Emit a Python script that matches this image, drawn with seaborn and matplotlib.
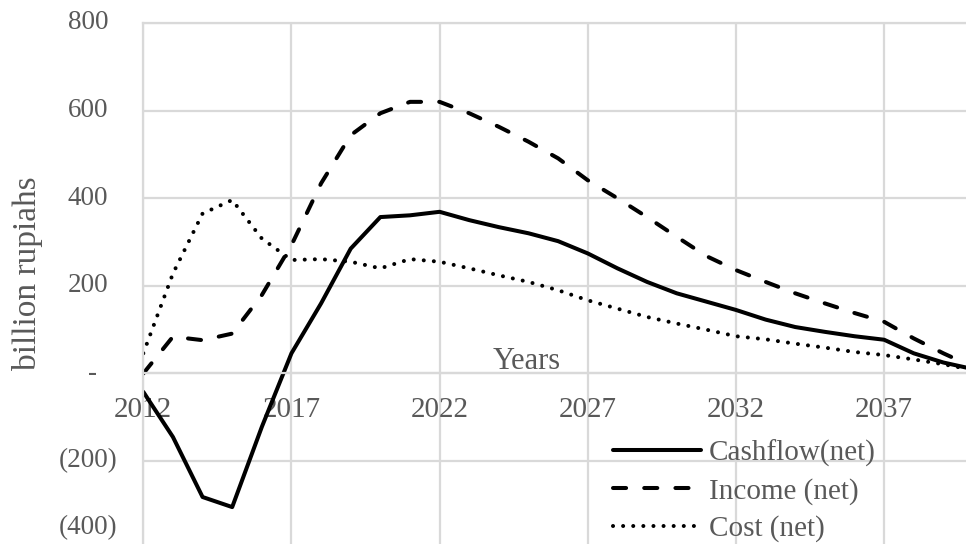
import seaborn as sns
import matplotlib.pyplot as plt
import pandas as pd

# data (billion rupiahs per year)
years = list(range(2012, 2041))
cashflow = [-42, -145, -282, -305, -122, 46, 160, 285, 357, 361, 369, 350, 334, 320,
            302, 274, 240, 209, 183, 164, 145, 123, 106, 95, 85, 77, 46, 25, 10]
income = [0, 84, 76, 91, 179, 293, 434, 544, 594, 620, 620, 594, 563, 529,
          491, 441, 400, 357, 312, 268, 236, 209, 183, 160, 138, 118, 80, 46, 15]
cost = [46, 228, 365, 396, 308, 259, 261, 255, 240, 261, 255, 240, 224, 209,
        190, 167, 148, 129, 114, 100, 85, 78, 68, 59, 49, 42, 32, 21, 8]

series_names = ["Cashflow(net)", "Income (net)", "Cost (net)"]
xtick_years = [2012, 2017, 2022, 2027, 2032, 2037]
ytick_values = [-400, -200, 0, 200, 400, 600, 800]
ytick_labels = ["(400)", "(200)", "-", "200", "400", "600", "800"]

df = pd.DataFrame({
    "year": years * 3,
    "value": cashflow + income + cost,
    "series": [series_names[0]] * len(years) + [series_names[1]] * len(years)
              + [series_names[2]] * len(years),
})

sns.set_style("white")
plt.rcParams["font.family"] = ["Liberation Serif", "DejaVu Serif"]

grey_text = "#595959"
grid_col = "#d9d9d9"

fig = plt.figure(figsize=(9.66, 5.44), dpi=100)
ax = fig.add_axes([143.3 / 966, -4.7 / 544, (973 - 143.3) / 966, (548.7 - 23) / 544])

sns.lineplot(
    data=df, x="year", y="value",
    style="series", style_order=series_names,
    dashes={series_names[0]: "", series_names[1]: (3.25, 4.5), series_names[2]: (0.01, 2.5)},
    color="black", linewidth=2.9, dash_capstyle="round",
    errorbar=None, legend=False, ax=ax,
)

ax.set_xlim(2012, 2040)
ax.set_ylim(-400, 800)
ax.set_xticks(xtick_years)
ax.set_xticklabels([str(y) for y in xtick_years])
ax.set_yticks(ytick_values)
ax.set_yticklabels([])
ax.tick_params(axis="x", length=0, pad=17, labelsize=21, labelcolor=grey_text)
ax.tick_params(axis="y", length=0)
ax.set_xlabel("")
ax.set_ylabel("")

ax.grid(True, color=grid_col, linewidth=1.6)
ax.set_axisbelow(True)
for side in ["top", "left"]:
    ax.spines[side].set_color(grid_col)
    ax.spines[side].set_linewidth(1.6)
ax.spines["right"].set_visible(False)
ax.spines["bottom"].set_position(("data", 0))
ax.spines["bottom"].set_color(grid_col)
ax.spines["bottom"].set_linewidth(1.6)

# accounting-style y labels (the lowest one is nudged up to stay inside, as in Excel)
ytrans = ax.get_yaxis_transform()
for v, lab in zip(ytick_values, ytick_labels):
    if v > 0:
        xpos, ha = -0.0422, "right"
    elif v < 0:
        xpos, ha = -0.0313, "right"
    else:
        xpos, ha = -0.061, "center"
    dy = 15 if v == min(ytick_values) else 0
    ax.annotate(lab, xy=(xpos, v), xycoords=ytrans, xytext=(0, dy),
                textcoords="offset points", ha=ha, va="center",
                fontsize=19.5, color=grey_text, annotation_clip=False)

ax.annotate("Years", xy=(2024.94, 0), xytext=(0, 3), textcoords="offset points",
            ha="center", va="baseline", fontsize=22, color=grey_text)

fig.text(28 / 966, 1 - 273 / 544, "billion rupiahs", rotation=90,
         ha="center", va="center", fontsize=24, color=grey_text)

leg = ax.legend(ax.lines[:3], series_names, loc="center left",
                bbox_to_anchor=(613 / 966, 1 - 491 / 544), bbox_transform=fig.transFigure,
                frameon=False, fontsize=21, handlelength=3.0, handletextpad=0.28,
                labelspacing=0.37, borderpad=0, borderaxespad=0)
for t in leg.get_texts():
    t.set_color(grey_text)

fig.savefig("out.png", dpi=100)
